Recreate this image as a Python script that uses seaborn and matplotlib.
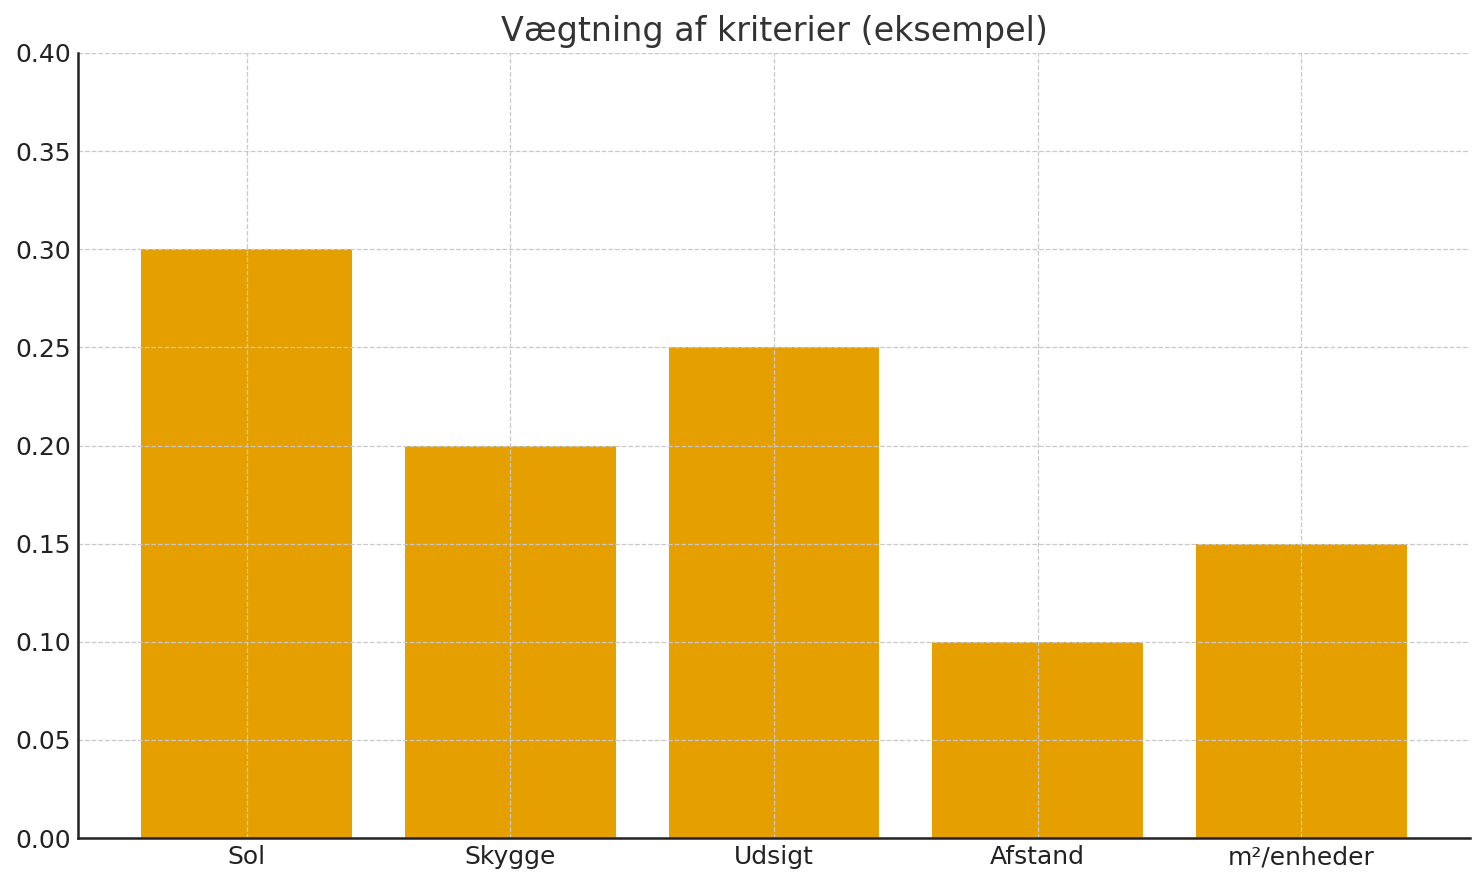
import matplotlib
matplotlib.use('Agg')
import matplotlib.pyplot as plt
import seaborn as sns
import pandas as pd

# data
kriterier = ['Sol', 'Skygge', 'Udsigt', 'Afstand', 'm²/enheder']
vaegte = [0.30, 0.20, 0.25, 0.10, 0.15]
yticks = [0.00, 0.05, 0.10, 0.15, 0.20, 0.25, 0.30, 0.35, 0.40]

df = pd.DataFrame({'Kriterie': kriterier, 'Vægt': vaegte})

sns.set_style('white')
plt.rcParams['font.family'] = ['DejaVu Sans']

fig, ax = plt.subplots(figsize=(1484 / 150, 884 / 150), dpi=150)
fig.subplots_adjust(left=78 / 1484, right=1470 / 1484, top=1 - 53 / 884, bottom=1 - 838 / 884)

sns.barplot(data=df, x='Kriterie', y='Vægt', color='#E5A000', saturation=1,
            width=0.8, linewidth=0, ax=ax)
ax.set_xlim(-0.64, len(kriterier) - 1 + 0.64)
ax.set_ylim(0, 0.40)
ax.set_yticks(yticks)
ax.set_yticklabels([f'{v:.2f}' for v in yticks])

ax.set_axisbelow(False)
ax.grid(True, linestyle='--', color='#c8c8c8', linewidth=0.6)
ax.spines[['top', 'right']].set_visible(False)
ax.spines[['left', 'bottom']].set_color('#222222')
ax.spines[['left', 'bottom']].set_linewidth(1.2)
for s in ax.spines.values():
    s.set_zorder(5)
ax.tick_params(direction='in', length=3.5, width=1.2, color='#222222',
               labelsize=12, labelcolor='#222222')
ax.set_xlabel('')
ax.set_ylabel('')
ax.set_title('Vægtning af kriterier (eksempel)', fontsize=16, color='#333333')

fig.savefig('out.png', dpi=150)
